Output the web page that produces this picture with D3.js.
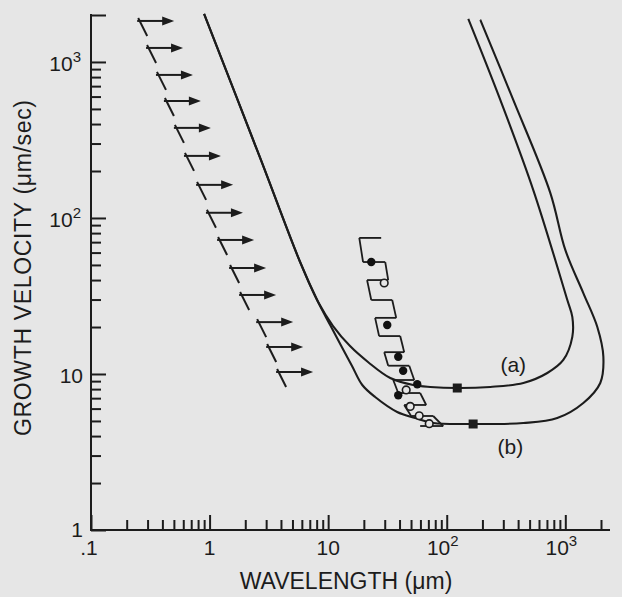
<!DOCTYPE html>
<html>
<head>
<meta charset="utf-8">
<script src="https://cdn.jsdelivr.net/npm/d3@7"></script>
<style>
	body { margin: 0; background: #e6e6e6; }
	svg { display: block; }
	.axis line, .axis-line { stroke: #1c1c1c; stroke-width: 2; }
	.tick-label, .axis-title, .curve-label { font-family: "Liberation Sans", Arial, sans-serif; fill: #1c1c1c; }
	.tick-label { font-size: 21px; }
	.axis-title { font-size: 23px; }
	.curve-label { font-size: 21px; }
	.curve { fill: none; stroke: #1c1c1c; stroke-width: 2.1; }
	.ladder { stroke: #1c1c1c; stroke-width: 1.8; fill: none; }
	.arrow-stem, .arrow-shaft { stroke: #1c1c1c; stroke-width: 2; }
</style>
</head>
<body>
<div id="chart"></div>
<script>

// axes: wavelength (um) and growth velocity (um/sec), both logarithmic
const xDomain = [0.1, 2000];
const yDomain = [1, 2000];
const xMajor = [0.1, 1, 10, 100, 1000];
const xLabels = [[".1", ""], ["1", ""], ["10", ""], ["10", "2"], ["10", "3"]];
const yMajor = [1, 10, 100, 1000];
const yLabels = [["1", ""], ["10", ""], ["10", "2"], ["10", "3"]];

// curve (a)
const curveALambda = [0.899, 2.67, 5.80, 8.23, 11.0, 15.3, 21.8, 33.4, 52.2, 72.6, 122.7, 233, 443, 705, 962, 1146, 1146, 1040, 537, 283, 152];
const curveAVel = [2031, 242.5, 52.2, 28.9, 20.3, 15.1, 11.9, 9.43, 8.50, 8.26, 8.13, 8.26, 8.76, 10.15, 12.3, 17.3, 23.2, 29.8, 151, 571, 1888];

// curve (b)
const curveBLambda = [0.899, 2.67, 5.80, 8.23, 10.4, 12.9, 15.9, 19.4, 24.9, 38.2, 54.2, 76.9, 167, 443, 855, 1419, 1972, 2094, 1862, 1419, 1000, 747, 364, 192];
const curveBVel = [2031, 242.5, 52.2, 28.9, 20.6, 15.1, 11.25, 8.50, 7.12, 5.71, 5.22, 4.85, 4.78, 4.85, 5.22, 6.52, 8.76, 12.9, 20.0, 33.0, 62.4, 145, 571, 1859];

// squares on the curve minima
const squareLambda = [122.7, 167];
const squareVel = [8.13, 4.78];

// dendrite arrows (lower bound of spacing)
const arrowLambda = [0.25, 0.297, 0.36, 0.42, 0.51, 0.62, 0.785, 0.95, 1.18, 1.49, 1.81, 2.52, 3.06, 3.71];
const arrowVel = [1832, 1230, 826, 562, 378, 250, 163, 108, 72.3, 47.8, 32.1, 21.5, 14.9, 10.3];

// measured spacing ranges (rungs of the band)
const rungVel = [74.5, 52.2, 40.0, 29.8, 22.9, 17.5, 13.8, 11.3, 9.15, 7.55, 6.33, 5.38, 4.64];
const rungLo = [18.3, 19.7, 21.3, 23.1, 24.9, 26.9, 29.7, 32.1, 35.4, 39.0, 43.8, 50.1, 59.7];
const rungHi = [28.0, 30.3, 32.1, 34.7, 37.5, 40.5, 43.8, 48.3, 53.2, 59.7, 67.1, 76.9, 93.4];

// cells: filled and open circles
const filledLambda = [23.1, 31.5, 39.0, 42.9, 56.4, 39.0];
const filledVel = [52.2, 20.6, 12.9, 10.5, 8.6, 7.3];
const openLambda = [29.7, 45.5, 49.2, 58.6, 71.2];
const openVel = [38.3, 7.9, 6.2, 5.4, 4.8];

// curve labels
const curveNames = ["(a)", "(b)"];
const curveNameLambda = [364, 344];
const curveNameVel = [11.4, 3.4];


let width = 622, height = 597;

let svg = d3.select("#chart").append("svg")
	.attr("width", width)
	.attr("height", height);

let x = d3.scaleLog().domain(xDomain).range([91, 601]);
let y = d3.scaleLog().domain(yDomain).range([530, 15]);

let x0 = x(xDomain[0]), y0 = y(yDomain[0]);

// minor ticks from the scale itself
let xMinor = x.ticks().filter(d => !xMajor.includes(d));
let yMinor = y.ticks().filter(d => !yMajor.includes(d) && d < yDomain[1]);

// x axis, ticks pointing up
svg.append("g").attr("class", "axis")
	.attr("transform", "translate(0," + y0 + ")")
	.call(d3.axisBottom(x).tickValues(xMajor).tickSizeInner(-15).tickSizeOuter(0).tickFormat(""))
	.call(g => g.select(".domain").remove());

svg.append("g").attr("class", "axis")
	.attr("transform", "translate(0," + y0 + ")")
	.call(d3.axisBottom(x).tickValues(xMinor).tickSizeInner(-10).tickSizeOuter(0).tickFormat(""))
	.call(g => g.select(".domain").remove());

// y axis, ticks pointing right
svg.append("g").attr("class", "axis")
	.attr("transform", "translate(" + x0 + ",0)")
	.call(d3.axisLeft(y).tickValues(yMajor.concat([yDomain[1]])).tickSizeInner(-15).tickSizeOuter(0).tickFormat(""))
	.call(g => g.select(".domain").remove());

svg.append("g").attr("class", "axis")
	.attr("transform", "translate(" + x0 + ",0)")
	.call(d3.axisLeft(y).tickValues(yMinor).tickSizeInner(-10).tickSizeOuter(0).tickFormat(""))
	.call(g => g.select(".domain").remove());

svg.append("line").attr("class", "axis-line")
	.attr("x1", x0 - 1).attr("x2", x(xDomain[1]) + 9)
	.attr("y1", y0).attr("y2", y0);

svg.append("line").attr("class", "axis-line")
	.attr("x1", x0).attr("x2", x0)
	.attr("y1", y0 + 1).attr("y2", y(yDomain[1]) - 1);

// tick labels with superscripts
function addLabel(sel, d) {
	sel.text(d[0]);
	if (d[1]) {
		sel.append("tspan")
			.attr("font-size", 15)
			.attr("dy", -9)
			.text(d[1]);
	}
}

svg.selectAll("text.xlab")
	.data(xMajor)
	.enter()
	.append("text")
	.attr("class", "tick-label xlab")
	.attr("x", (d, i) => x(d) + (xLabels[i][1] ? -4 : (i == 0 ? -2 : 0)))
	.attr("y", y0 + 25)
	.attr("text-anchor", "middle")
	.each(function (d, i) { addLabel(d3.select(this), xLabels[i]); });

svg.selectAll("text.ylab")
	.data(yMajor)
	.enter()
	.append("text")
	.attr("class", "tick-label ylab")
	.attr("x", (d, i) => x0 - (yLabels[i][1] ? 10 : 8))
	.attr("y", (d, i) => y(d) + (i == 0 ? 7 : 9))
	.attr("text-anchor", "end")
	.each(function (d, i) { addLabel(d3.select(this), yLabels[i]); });

// axis titles
svg.append("text")
	.attr("class", "axis-title")
	.attr("x", 346)
	.attr("y", 589)
	.attr("text-anchor", "middle")
	.text("WAVELENGTH (\u03bcm)");

svg.append("text")
	.attr("class", "axis-title")
	.attr("transform", "translate(31,268) rotate(-90)")
	.attr("text-anchor", "middle")
	.attr("textLength", 336)
	.text("GROWTH VELOCITY (\u03bcm/sec)");

// stability curves
let line = d3.line()
	.x(d => x(d[0]))
	.y(d => y(d[1]))
	.curve(d3.curveCatmullRom.alpha(0.5));

svg.append("path").attr("class", "curve")
	.attr("d", line(d3.zip(curveALambda, curveAVel)));

svg.append("path").attr("class", "curve")
	.attr("d", line(d3.zip(curveBLambda, curveBVel)));

svg.selectAll("rect.sq")
	.data(d3.zip(squareLambda, squareVel))
	.enter()
	.append("rect")
	.attr("class", "sq")
	.attr("x", d => x(d[0]) - 4.5)
	.attr("y", d => y(d[1]) - 4.5)
	.attr("width", 9)
	.attr("height", 9)
	.attr("fill", "#1c1c1c");

svg.selectAll("text.curve-label")
	.data(curveNames)
	.enter()
	.append("text")
	.attr("class", "curve-label")
	.attr("x", (d, i) => x(curveNameLambda[i]))
	.attr("y", (d, i) => y(curveNameVel[i]) + 7)
	.attr("text-anchor", "middle")
	.text(d => d);

// dendrite arrows
let arrows = svg.selectAll("g.arrow")
	.data(d3.zip(arrowLambda, arrowVel))
	.enter()
	.append("g")
	.attr("class", "arrow")
	.attr("transform", d => "translate(" + x(d[0]) + "," + y(d[1]) + ")");

arrows.append("line").attr("class", "arrow-stem")
	.attr("x1", 0).attr("y1", -3)
	.attr("x2", 9).attr("y2", 15);

arrows.append("line").attr("class", "arrow-shaft")
	.attr("x1", -1).attr("y1", 0)
	.attr("x2", 26).attr("y2", 0);

arrows.append("path")
	.attr("d", "M24,-4.5L36,0L24,4.5Z")
	.attr("fill", "#1c1c1c");

// spacing band: rungs with broken side rails
let rungs = d3.zip(rungLo, rungHi, rungVel);

svg.selectAll("line.rung")
	.data(rungs)
	.enter()
	.append("line")
	.attr("class", "ladder rung")
	.attr("x1", d => x(d[0]))
	.attr("x2", d => x(d[1]))
	.attr("y1", d => y(d[2]))
	.attr("y2", d => y(d[2]));

// left rail on every other step, right rail on the others
svg.selectAll("line.rail")
	.data(rungs.slice(0, -1))
	.enter()
	.append("line")
	.attr("class", "ladder rail")
	.attr("x1", (d, i) => x(i % 2 == 0 ? d[0] : d[1]))
	.attr("y1", d => y(d[2]))
	.attr("x2", (d, i) => x(i % 2 == 0 ? rungs[i + 1][0] : rungs[i + 1][1]))
	.attr("y2", (d, i) => y(rungs[i + 1][2]));

// cells
svg.selectAll("circle.open")
	.data(d3.zip(openLambda, openVel))
	.enter()
	.append("circle")
	.attr("class", "open")
	.attr("cx", d => x(d[0]))
	.attr("cy", d => y(d[1]))
	.attr("r", 3.8)
	.attr("fill", "#e6e6e6")
	.attr("stroke", "#1c1c1c")
	.attr("stroke-width", 1.6);

svg.selectAll("circle.filled")
	.data(d3.zip(filledLambda, filledVel))
	.enter()
	.append("circle")
	.attr("class", "filled")
	.attr("cx", d => x(d[0]))
	.attr("cy", d => y(d[1]))
	.attr("r", 4.2)
	.attr("fill", "#111");

</script>
</body>
</html>
